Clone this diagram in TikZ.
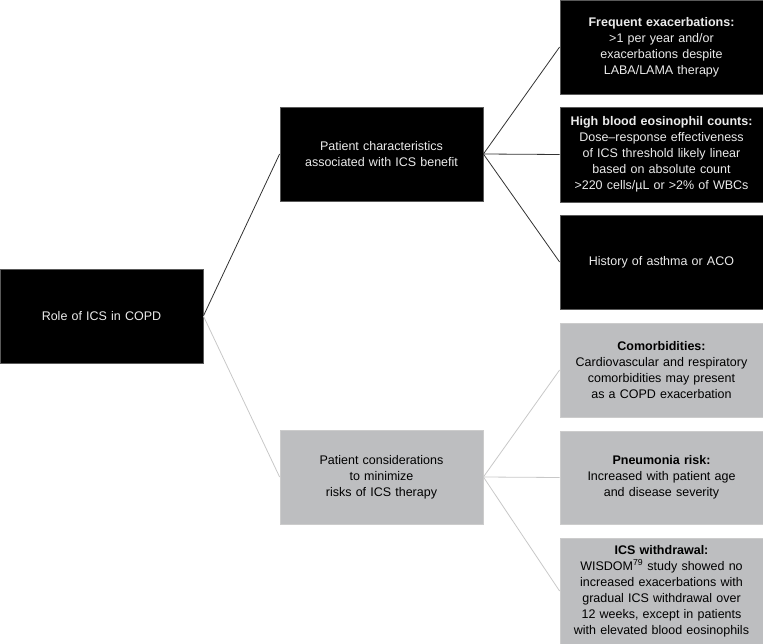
\documentclass[tikz,border=0pt]{standalone}
\usepackage{fontspec}
\setmainfont{Liberation Sans}
\definecolor{boxgrey}{HTML}{BDBEC0}
\definecolor{linegrey}{HTML}{C8C8C8}
\begin{document}
\begin{tikzpicture}[x=1pt,y=-1pt,
  base/.style={rectangle, inner sep=2pt, align=center, font=\fontsize{12.5}{16}\selectfont, minimum width=203pt, text width=199pt},
  blackbox/.style={base, fill=black, draw=black!65, line width=0.8pt, text=white!92!black},
  greybox/.style={base, fill=boxgrey, draw=black!20, line width=0.8pt, text=black},
  blackline/.style={draw=black!80, line width=0.8pt},
  greyline/.style={draw=linegrey, line width=0.8pt}]
\useasboundingbox (0,0) rectangle (763,644);
\node[blackbox, minimum height=94pt] (root) at (101.5,316) {Role of ICS in COPD};
\node[blackbox, minimum height=94pt] (char) at (381.5,154) {Patient characteristics\\associated with ICS benefit};
\node[greybox, minimum height=94pt] (cons) at (381.5,477) {Patient considerations\\to minimize\\risks of ICS therapy};
\node[blackbox, minimum height=94pt] (freq) at (661.5,47) {\textbf{Frequent exacerbations:}\\>1 per year and/or\\exacerbations despite\\LABA/LAMA therapy};
\node[blackbox, minimum height=95pt] (eos) at (661.5,154.5) {\textbf{High blood eosinophil counts:}\\Dose–response effectiveness\\of ICS threshold likely linear\\based on absolute count\\>220 cells/µL or >2\% of WBCs};
\node[blackbox, minimum height=94pt] (asth) at (661.5,262) {History of asthma or ACO};
\node[greybox, minimum height=94pt] (comor) at (661.5,370) {\textbf{Comorbidities:}\\Cardiovascular and respiratory\\comorbidities may present\\as a COPD exacerbation};
\node[greybox, minimum height=93pt] (pneu) at (661.5,477.5) {\textbf{Pneumonia risk:}\\Increased with patient age\\and disease severity};
\node[greybox, minimum height=106pt] (withd) at (661.5,591) {\textbf{ICS withdrawal:}\\WISDOM\textsuperscript{79} study showed no\\increased exacerbations with\\gradual ICS withdrawal over\\12 weeks, except in patients\\with elevated blood eosinophils};
\draw[blackline] (root.east) -- (char.west);
\draw[greyline] (root.east) -- (cons.west);
\draw[blackline] (char.east) -- (freq.west);
\draw[blackline] (char.east) -- (eos.west);
\draw[blackline] (char.east) -- (asth.west);
\draw[greyline] (cons.east) -- (comor.west);
\draw[greyline] (cons.east) -- (pneu.west);
\draw[greyline] (cons.east) -- (withd.west);
\end{tikzpicture}
\end{document}
